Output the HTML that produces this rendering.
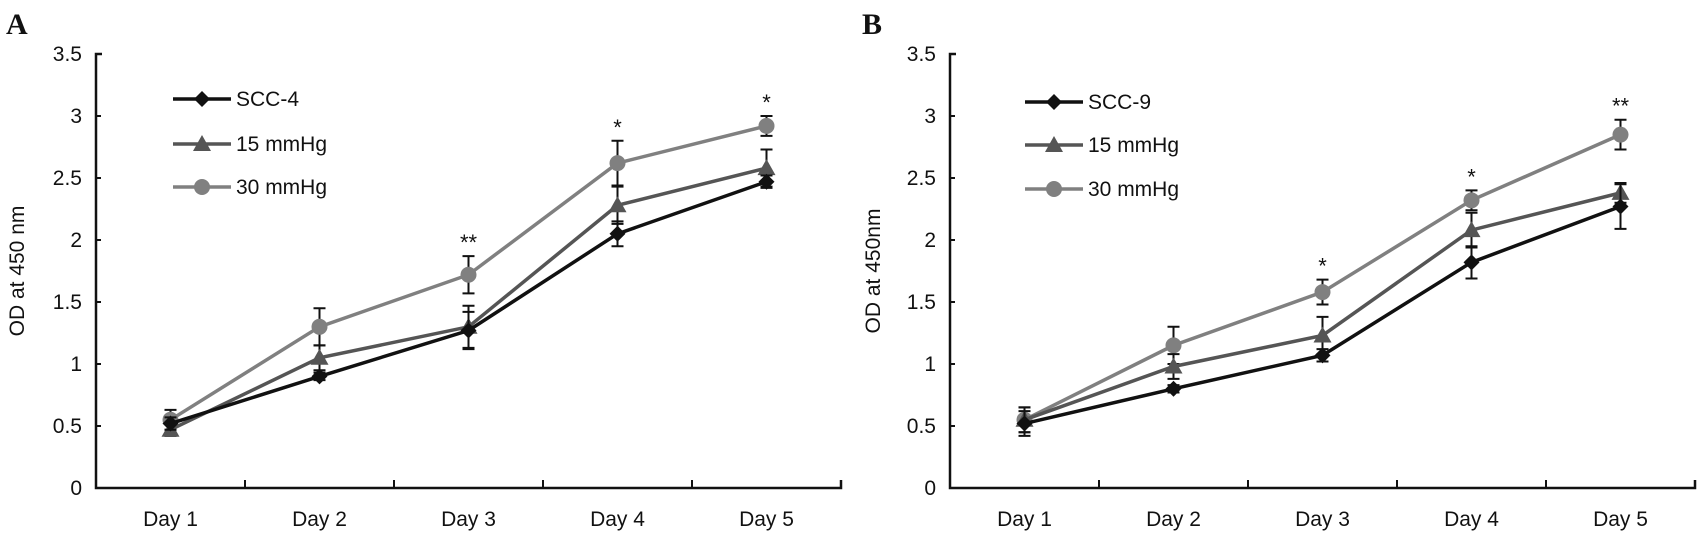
<!DOCTYPE html>
<html><head><meta charset="utf-8"><style>
body{margin:0;background:#fff;width:1708px;height:552px;overflow:hidden}
svg text{font-family:"Liberation Sans",sans-serif;fill:#111}
</style></head><body>
<svg id="chart" width="1708" height="552" xmlns="http://www.w3.org/2000/svg"></svg>
<script>
const categories=["Day 1","Day 2","Day 3","Day 4","Day 5"];
const yTicks=[0,0.5,1,1.5,2,2.5,3,3.5];
const seriesNames=["15 mmHg","30 mmHg"];
const aCtrl=[0.52,0.90,1.27,2.05,2.47];
const aCtrlErr=[0.05,0.03,0.15,0.10,0.05];
const a15=[0.47,1.05,1.30,2.28,2.58];
const a15Err=[0.05,0.10,0.17,0.15,0.15];
const a30=[0.55,1.30,1.72,2.62,2.92];
const a30Err=[0.08,0.15,0.15,0.18,0.08];
const aStars=["","","**","*","*"];
const bCtrl=[0.52,0.80,1.07,1.82,2.27];
const bCtrlErr=[0.10,0.03,0.05,0.13,0.18];
const b15=[0.55,0.98,1.23,2.08,2.38];
const b15Err=[0.10,0.10,0.15,0.14,0.08];
const b30=[0.55,1.15,1.58,2.32,2.85];
const b30Err=[0.10,0.15,0.10,0.08,0.12];
const bStars=["","","*","*","**"];

const NS="http://www.w3.org/2000/svg";
const svg=document.getElementById('chart');
function mk(tag,attrs,parent){const e=document.createElementNS(NS,tag);for(const k in attrs)e.setAttribute(k,attrs[k]);(parent||svg).appendChild(e);return e;}

function panel(cfg){
  const g=mk('g',{});
  
  
  const L=cfg.left,B=488,T=cfg.top,W=149;
  const x=i=>L+W*(i+0.5);
  const y=v=>B-(B-T)*v/3.5;
  const lbl=mk('text',{x:cfg.lx,y:34,'font-size':30,'font-weight':'bold',style:'font-family:"Liberation Serif",serif'},g);
  lbl.textContent=cfg.id.toUpperCase();
  
  
  const yax=mk('path',{d:`M${L+6},${T} H${L} V${B} H${L+W*5} v-8`,stroke:'#111','stroke-width':2.5,fill:'none'},g);
  
  
  yTicks.forEach(t=>{
    mk('line',{x1:L,x2:L+5,y1:y(t),y2:y(t),stroke:'#111','stroke-width':2},g);
    const tx=mk('text',{x:L-14,y:y(t)+7,'font-size':21,'text-anchor':'end'},g);
    tx.textContent=String(t);
    
    
  });
  categories.forEach((c,i)=>{
    if(i>0) mk('line',{x1:L+W*i,x2:L+W*i,y1:B,y2:B-8,stroke:'#111','stroke-width':2},g);
    const tx=mk('text',{x:x(i),y:B+38,'font-size':21,'text-anchor':'middle'},g);
    tx.textContent=c;
    
    
  });
  const yt=mk('text',{x:0,y:0,'font-size':21,'text-anchor':'middle',transform:`translate(${cfg.ytx},${(T+B)/2}) rotate(-90)`},g);
  yt.textContent=cfg.ytitle;
  
  
  const ser=[
    {v:cfg.ctrl,e:cfg.ctrlErr,c:'#111',m:'diamond',n:cfg.ctrlName},
    {v:cfg.s15,e:cfg.s15Err,c:'#555',m:'tri',n:seriesNames[0]},
    {v:cfg.s30,e:cfg.s30Err,c:'#808080',m:'circ',n:seriesNames[1]}];
  function marker(m,cx,cy,col,parent){
    if(m==='diamond') return mk('path',{d:`M${cx},${cy-8}L${cx+8},${cy}L${cx},${cy+8}L${cx-8},${cy}Z`,fill:col},parent);
    if(m==='tri') return mk('path',{d:`M${cx},${cy-9}L${cx+9},${cy+7}L${cx-9},${cy+7}Z`,fill:col},parent);
    return mk('circle',{cx:cx,cy:cy,r:8,fill:col},parent);
  }
  ser.slice().reverse().forEach(s=>{
    const sg=mk('g',{},g);
    
    
    s.v.forEach((v,i)=>{
      const e=s.e[i];
      mk('path',{d:`M${x(i)},${y(v-e)}V${y(v+e)}M${x(i)-6},${y(v-e)}h12M${x(i)-6},${y(v+e)}h12`,stroke:'#111','stroke-width':2,fill:'none'},sg);
    });
    const pl=mk('polyline',{points:s.v.map((v,i)=>x(i)+','+y(v)).join(' '),stroke:s.c,'stroke-width':3.5,fill:'none'},sg);
    
    
    s.v.forEach((v,i)=>{
      const mkr=marker(s.m,x(i),y(v),s.c,sg);
      
      
    });
  });
  cfg.stars.forEach((st,i)=>{
    if(!st) return;
    const top=Math.max(cfg.ctrl[i]+cfg.ctrlErr[i],cfg.s15[i]+cfg.s15Err[i],cfg.s30[i]+cfg.s30Err[i]);
    const tx=mk('text',{x:x(i),y:y(top)-6,'font-size':22,'text-anchor':'middle'},g);
    tx.textContent=st;
    
    
  });
  const lg=mk('g',{},g);
  
  
  ser.forEach((s,k)=>{
    const ry=cfg.legY[k];
    const eg=mk('g',{},lg);
    
    
    mk('line',{x1:cfg.legX,x2:cfg.legX+58,y1:ry,y2:ry,stroke:s.c,'stroke-width':3.5},eg);
    marker(s.m,cfg.legX+29,ry,s.c,eg);
    const tx=mk('text',{x:cfg.legX+63,y:ry+7,'font-size':21},eg);
    tx.textContent=s.n;
  });
}
panel({id:'a',left:96,top:54,lx:6,ytx:24,ytitle:'OD at 450 nm',ctrlName:'SCC-4',ctrl:aCtrl,ctrlErr:aCtrlErr,s15:a15,s15Err:a15Err,s30:a30,s30Err:a30Err,stars:aStars,legX:173,legY:[99,144,187]});
panel({id:'b',left:950,top:54,lx:862,ytx:880,ytitle:'OD at 450nm',ctrlName:'SCC-9',ctrl:bCtrl,ctrlErr:bCtrlErr,s15:b15,s15Err:b15Err,s30:b30,s30Err:b30Err,stars:bStars,legX:1025,legY:[102,145,189]});
</script>
</body></html>
